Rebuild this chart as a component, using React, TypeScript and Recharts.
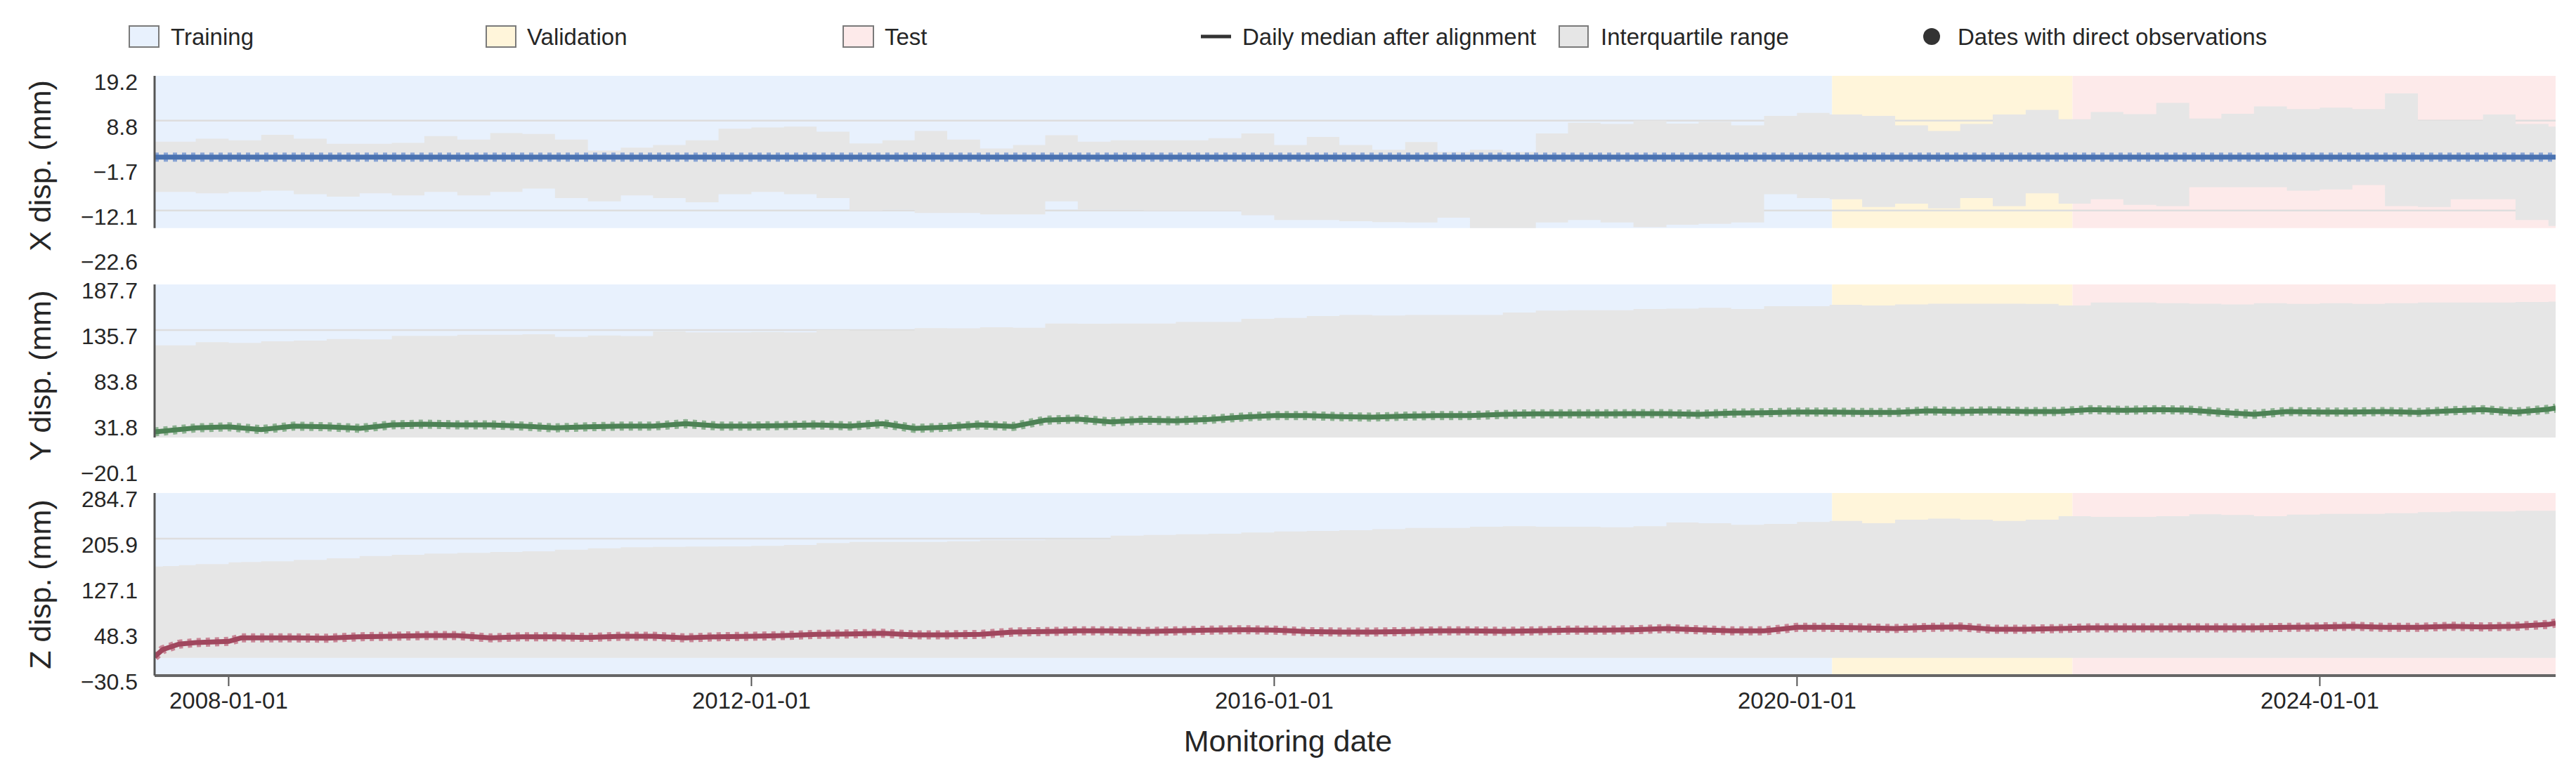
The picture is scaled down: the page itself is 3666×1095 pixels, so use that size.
import React from "react";
import { ComposedChart, XAxis, YAxis, Area, Line, ReferenceArea, ReferenceLine } from "recharts";

const W = 3666;
const H = 1095;
const FONT = "'Liberation Sans', Arial, Helvetica, sans-serif";

// ---------- time axis ----------
const domainDates = ["2007-06-08", "2025-10-21"];
const xTickDates = ["2008-01-01", "2012-01-01", "2016-01-01", "2020-01-01", "2024-01-01"];
const phaseNames = ["Training", "Validation", "Test"];
const phaseStarts = ["2007-06-08", "2020-04-08", "2022-02-09"];
const phaseEnds = ["2020-04-08", "2022-02-09", "2025-10-21"];
const phaseColors = ["#e8f1fd", "#fff5da", "#fdeaea"];

// ---------- sample dates (quarterly) ----------
const qDates = [
  "2007-06-08", "2007-10-01",
  "2008-01-01", "2008-04-01", "2008-07-01", "2008-10-01",
  "2009-01-01", "2009-04-01", "2009-07-01", "2009-10-01",
  "2010-01-01", "2010-04-01", "2010-07-01", "2010-10-01",
  "2011-01-01", "2011-04-01", "2011-07-01", "2011-10-01",
  "2012-01-01", "2012-04-01", "2012-07-01", "2012-10-01",
  "2013-01-01", "2013-04-01", "2013-07-01", "2013-10-01",
  "2014-01-01", "2014-04-01", "2014-07-01", "2014-10-01",
  "2015-01-01", "2015-04-01", "2015-07-01", "2015-10-01",
  "2016-01-01", "2016-04-01", "2016-07-01", "2016-10-01",
  "2017-01-01", "2017-04-01", "2017-07-01", "2017-10-01",
  "2018-01-01", "2018-04-01", "2018-07-01", "2018-10-01",
  "2019-01-01", "2019-04-01", "2019-07-01", "2019-10-01",
  "2020-01-01", "2020-04-01", "2020-07-01", "2020-10-01",
  "2021-01-01", "2021-04-01", "2021-07-01", "2021-10-01",
  "2022-01-01", "2022-04-01", "2022-07-01", "2022-10-01",
  "2023-01-01", "2023-04-01", "2023-07-01", "2023-10-01",
  "2024-01-01", "2024-04-01", "2024-07-01", "2024-10-01",
  "2025-01-01", "2025-04-01", "2025-07-01", "2025-10-01",
  "2025-10-21",
];

// ---------- X displacement (mm) ----------
const xTicks = [-22.6, -12.1, -1.7, 8.8, 19.2];
const xVisibleFloor = -16.2;
const xMedian = [
  0.3, 0.3,
  0.3, 0.3, 0.3, 0.3, 0.3, 0.3, 0.3, 0.3, 0.3, 0.3, 0.3, 0.3, 0.3, 0.3, 0.3, 0.3,
  0.3, 0.3, 0.3, 0.3, 0.3, 0.3, 0.3, 0.3, 0.3, 0.3, 0.3, 0.3, 0.3, 0.3, 0.3, 0.3,
  0.3, 0.3, 0.3, 0.3, 0.3, 0.3, 0.3, 0.3, 0.3, 0.3, 0.3, 0.3, 0.3, 0.3, 0.3, 0.3,
  0.3, 0.3, 0.3, 0.3, 0.3, 0.3, 0.3, 0.3, 0.3, 0.3, 0.3, 0.3, 0.3, 0.3, 0.3, 0.3,
  0.3, 0.3, 0.3, 0.3, 0.3, 0.3, 0.3, 0.3,
  0.3,
];
const xUpper = [
  3.9, 4.6,
  4.2, 5.5, 4.6, 3.4,
  3.4, 3.6, 5.2, 4.4,
  5.9, 5.7, 4.4, 1.8,
  2.5, 3.1, 4.2, 6.9,
  7.2, 7.4, 6.2, 3.5,
  4.2, 6.4, 4.4, 2.3,
  3.1, 5.4, 3.9, 4.2,
  4.2, 4.2, 4.7, 5.8,
  3.1, 5.0, 3.1, 2.0,
  3.8, 1.5, 2.0, 1.5,
  5.8, 8.3, 8.0, 8.8,
  8.1, 8.5, 7.7, 9.9,
  10.6, 10.2, 9.9, 7.7,
  6.4, 8.0, 10.2, 11.3,
  9.1, 10.8, 10.3, 12.9,
  9.3, 10.4, 12.1, 11.5,
  11.8, 11.5, 15.1, 8.8,
  8.8, 10.2, 8.0, 7.4,
  7.4,
];
const xLower = [
  -7.8, -8.1,
  -7.8, -7.5, -8.3, -8.9,
  -8.1, -8.6, -7.8, -8.6,
  -7.8, -7.0, -9.2, -10.0,
  -8.6, -9.2, -10.2, -8.3,
  -7.8, -8.3, -9.2, -12.1,
  -11.9, -12.7, -12.7, -13.0,
  -13.0, -10.0, -11.9, -11.9,
  -12.1, -12.1, -12.1, -13.2,
  -14.3, -14.3, -14.6, -14.8,
  -14.9, -13.8, -16.2, -16.2,
  -14.9, -14.3, -14.9, -16.0,
  -15.4, -15.2, -14.9, -8.3,
  -9.2, -9.5, -11.3, -10.5,
  -11.6, -9.2, -11.1, -8.1,
  -10.5, -9.5, -10.8, -11.1,
  -6.7, -6.7, -6.7, -7.5,
  -7.2, -6.2, -11.1, -11.3,
  -9.5, -9.5, -14.3, -15.7,
  -15.7,
];

// ---------- Y displacement (mm) ----------
const yTicks = [-20.1, 31.8, 83.8, 135.7, 187.7];
const yVisibleFloor = 13.5;
const yMedian = [
  19.9, 24.4,
  25.7, 22.5, 26.5, 25.7,
  23.9, 27.9, 28.7, 27.9,
  27.9, 26.5, 24.4, 25.7,
  26.5, 26.5, 29.2, 26.5,
  26.5, 27.1, 27.9, 26.5,
  29.2, 23.9, 25.2, 27.9,
  26.0, 33.2, 34.5, 31.3,
  33.2, 32.4, 34.0, 36.7,
  38.5, 38.5, 37.2, 36.7,
  37.8, 38.5, 38.5, 39.8,
  40.4, 40.4, 40.4, 40.6,
  40.6, 39.8, 41.2, 41.7,
  42.5, 42.5, 42.0, 42.0,
  43.9, 43.1, 43.9, 43.1,
  43.1, 45.2, 44.4, 45.2,
  44.7, 42.0, 39.8, 43.1,
  42.5, 42.5, 43.1, 42.0,
  43.9, 45.2, 42.5, 45.7,
  47.0,
];
const yUpper = [
  118.4, 121.9,
  121.1, 123.0, 123.7, 125.6,
  125.1, 129.1, 129.1, 130.4,
  130.4, 131.0, 128.0, 129.6,
  129.0, 134.4, 133.1, 133.1,
  133.5, 133.1, 135.7, 135.2,
  135.2, 137.9, 137.8, 138.9,
  138.4, 143.2, 142.9, 143.2,
  143.2, 145.0, 145.0, 148.5,
  149.6, 151.7, 153.0, 152.3,
  153.0, 153.0, 153.0, 155.7,
  157.9, 158.4, 158.4, 159.7,
  160.2, 161.1, 159.7, 162.9,
  162.9, 164.5, 163.7, 165.0,
  165.8, 165.8, 165.8, 165.5,
  163.7, 167.2, 167.2, 166.3,
  165.8, 165.0, 166.3, 165.5,
  166.3, 165.5, 166.3, 167.2,
  167.2, 167.2, 167.7, 168.2,
  168.2,
];
const yLower = [
  13.5, 13.5,
  13.5, 13.5, 13.5, 13.5, 13.5, 13.5, 13.5, 13.5, 13.5, 13.5, 13.5, 13.5, 13.5, 13.5, 13.5, 13.5,
  13.5, 13.5, 13.5, 13.5, 13.5, 13.5, 13.5, 13.5, 13.5, 13.5, 13.5, 13.5, 13.5, 13.5, 13.5, 13.5,
  13.5, 13.5, 13.5, 13.5, 13.5, 13.5, 13.5, 13.5, 13.5, 13.5, 13.5, 13.5, 13.5, 13.5, 13.5, 13.5,
  13.5, 13.5, 13.5, 13.5, 13.5, 13.5, 13.5, 13.5, 13.5, 13.5, 13.5, 13.5, 13.5, 13.5, 13.5, 13.5,
  13.5, 13.5, 13.5, 13.5, 13.5, 13.5, 13.5, 13.5,
  13.5,
];

// ---------- Z displacement (mm) ----------
const zDates = [
  "2007-06-08", "2007-07-01", "2007-08-15", "2007-10-01",
  "2008-01-01", "2008-02-05", "2008-04-01", "2008-07-01", "2008-10-01",
  "2009-01-01", "2009-04-01", "2009-07-01", "2009-10-01",
  "2010-01-01", "2010-04-01", "2010-07-01", "2010-10-01",
  "2011-01-01", "2011-04-01", "2011-07-01", "2011-10-01",
  "2012-01-01", "2012-04-01", "2012-07-01", "2012-10-01",
  "2013-01-01", "2013-04-01", "2013-07-01", "2013-10-01",
  "2014-01-01", "2014-04-01", "2014-07-01", "2014-10-01",
  "2015-01-01", "2015-04-01", "2015-07-01", "2015-10-01",
  "2016-01-01", "2016-04-01", "2016-07-01", "2016-10-01",
  "2017-01-01", "2017-04-01", "2017-07-01", "2017-10-01",
  "2018-01-01", "2018-04-01", "2018-07-01", "2018-10-01",
  "2019-01-01", "2019-04-01", "2019-07-01", "2019-10-01",
  "2020-01-01", "2020-04-01", "2020-07-01", "2020-10-01",
  "2021-01-01", "2021-04-01", "2021-07-01", "2021-10-01",
  "2022-01-01", "2022-04-01", "2022-07-01", "2022-10-01",
  "2023-01-01", "2023-04-01", "2023-07-01", "2023-10-01",
  "2024-01-01", "2024-04-01", "2024-07-01", "2024-10-01",
  "2025-01-01", "2025-04-01", "2025-07-01", "2025-10-01",
  "2025-10-21",
];
const zTicks = [-30.5, 48.3, 127.1, 205.9, 284.7];
const zVisibleFloor = -30.5;
const zMedian = [
  2.2, 14.4, 23.7, 26.5,
  28.5, 34.6, 34.6, 34.6, 34.0,
  36.6, 37.4, 38.6, 38.6,
  34.6, 36.6, 36.6, 35.4,
  37.4, 37.4, 34.6, 36.6,
  37.4, 38.6, 40.6, 41.4,
  42.6, 39.8, 39.8, 40.6,
  44.7, 45.5, 46.7, 46.7,
  45.5, 46.7, 47.9, 48.7,
  47.9, 45.5, 44.7, 44.7,
  45.5, 46.7, 46.7, 45.9,
  46.7, 47.9, 47.9, 48.7,
  50.7, 48.7, 46.7, 46.7,
  52.7, 52.7, 51.9, 50.7,
  52.7, 53.5, 49.5, 49.5,
  50.7, 51.9, 51.9, 51.9,
  51.9, 51.9, 51.9, 52.7,
  53.5, 54.7, 52.7, 52.7,
  54.7, 53.5, 54.7, 57.9,
  60.3,
];
const zUpper = [
  157.8, 158.5, 160.0, 161.9,
  165.0, 165.5, 166.7, 169.1, 172.0,
  175.9, 178.0, 180.1, 181.3,
  182.9, 184.1, 186.9, 189.3,
  191.0, 191.7, 192.2, 192.6,
  193.4, 195.0, 198.3, 200.2,
  200.2, 200.2, 201.4, 203.1,
  203.1, 204.3, 204.3, 211.1,
  212.3, 213.5, 214.4, 216.4,
  218.4, 219.2, 220.4, 222.4,
  224.4, 224.4, 226.5, 227.3,
  226.5, 226.5, 225.7, 227.3,
  233.8, 232.6, 229.8, 231.4,
  234.6, 236.6, 232.6, 238.6,
  240.6, 238.6, 236.6, 238.6,
  244.7, 243.5, 243.5, 244.7,
  247.9, 246.7, 244.7, 247.5,
  248.7, 248.7, 249.9, 251.6,
  252.8, 252.8, 254.0, 254.0,
  254.0,
];
const zLower = [
  0.2, 0.2, 0.2, 0.2,
  0.2, 0.2, 0.2, 0.2, 0.2,
  0.2, 0.2, 0.2, 0.2, 0.2, 0.2, 0.2, 0.2, 0.2, 0.2, 0.2, 0.2, 0.2, 0.2, 0.2, 0.2,
  0.2, 0.2, 0.2, 0.2, 0.2, 0.2, 0.2, 0.2, 0.2, 0.2, 0.2, 0.2, 0.2, 0.2, 0.2, 0.2,
  0.2, 0.2, 0.2, 0.2, 0.2, 0.2, 0.2, 0.2, 0.2, 0.2, 0.2, 0.2, 0.2, 0.2, 0.2, 0.2,
  0.2, 0.2, 0.2, 0.2, 0.2, 0.2, 0.2, 0.2, 0.2, 0.2, 0.2, 0.2, 0.2, 0.2, 0.2, 0.2,
  0.2, 0.2, 0.2, 0.2,
  0.2,
];

const panelTitles = ["X disp. (mm)", "Y disp. (mm)", "Z disp. (mm)"];
const xAxisTitle = "Monitoring date";

// ---------- helpers ----------
const ts = (d: string) => Date.parse(d + "T00:00:00Z");
const T0 = ts(domainDates[0]);
const T1 = ts(domainDates[1]);
const X_TICKS = xTickDates.map(ts);

function buildRows(dates: string[], med: number[], lo: number[], hi: number[]) {
  return dates.map((d, i) => ({ t: ts(d), med: med[i], lo: lo[i], hi: hi[i] }));
}

const fmtNum = (v: number) => v.toFixed(1).replace("-", "\u2212");

const fmtDate = (t: number) => {
  const d = new Date(t);
  const m = String(d.getUTCMonth() + 1).padStart(2, "0");
  const dd = String(d.getUTCDate()).padStart(2, "0");
  return `${d.getUTCFullYear()}-${m}-${dd}`;
};

const YTick = (props: any) => {
  const { y, payload } = props;
  return (
    <text x={196} y={y + 9} textAnchor="end" dominantBaseline="central" fontSize={32} fill="#262626" fontFamily={FONT}>
      {fmtNum(payload.value)}
    </text>
  );
};

const XTick = (props: any) => {
  const { x, y, payload } = props;
  return (
    <g>
      <line x1={x} x2={x} y1={y + 2} y2={y + 15} stroke="#555" strokeWidth={2} />
      <text x={x} y={y + 35} textAnchor="middle" dominantBaseline="central" fontSize={33} fill="#262626" fontFamily={FONT}>
        {fmtDate(payload.value)}
      </text>
    </g>
  );
};

type PanelProps = {
  rows: any[];
  ticks: number[];
  floor: number;
  color: string;
  markColor: string;
  top: number;
  bottom: number;
  showX?: boolean;
};

function Panel({ rows, ticks, floor, color, markColor, top, bottom, showX }: PanelProps) {
  const yMin = ticks[0];
  const yMax = ticks[ticks.length - 1];
  const xAxisH = 100;
  return (
    <div style={{ position: "absolute", left: 0, top: 0, width: W, height: H }}>
      <ComposedChart
        width={W}
        height={H}
        data={rows}
        margin={{ top, right: 29, bottom: showX ? bottom - xAxisH : bottom, left: 100 }}
      >
        <XAxis
          dataKey="t"
          type="number"
          scale="linear"
          domain={[T0, T1]}
          allowDataOverflow
          ticks={X_TICKS}
          interval={0}
          hide={!showX}
          height={xAxisH}
          axisLine={{ stroke: "#666", strokeWidth: 4 }}
          tickLine={false}
          tickSize={0}
          tickMargin={0}
          tick={<XTick />}
        />
        <YAxis
          type="number"
          domain={[yMin, yMax]}
          allowDataOverflow
          ticks={ticks}
          interval={0}
          width={120}
          axisLine={false}
          tickLine={false}
          tick={<YTick />}
        />
        {phaseNames.map((n, i) => (
          <ReferenceArea
            key={n}
            x1={ts(phaseStarts[i])}
            x2={ts(phaseEnds[i])}
            y1={floor}
            y2={yMax}
            fill={phaseColors[i]}
            fillOpacity={1}
            stroke="none"
            ifOverflow="hidden"
            zIndex={-60}
          />
        ))}
        {ticks
          .filter((v) => v > floor && v < yMax)
          .map((v) => (
            <ReferenceLine key={v} y={v} stroke="#dedede" strokeWidth={2.5} zIndex={-55} />
          ))}
        <Area
          dataKey={(d: any) => [d.lo, d.hi]}
          type="stepAfter"
          fill="#e6e6e6"
          fillOpacity={1}
          stroke="none"
          isAnimationActive={false}
          activeDot={false}
        />
        <Line
          dataKey="med"
          type="linear"
          stroke={markColor}
          strokeWidth={13}
          strokeDasharray="6 7"
          dot={false}
          activeDot={false}
          isAnimationActive={false}
        />
        <Line
          dataKey="med"
          type="linear"
          stroke={color}
          strokeWidth={7}
          dot={false}
          activeDot={false}
          isAnimationActive={false}
        />
        <ReferenceLine
          segment={[
            { x: T0, y: floor },
            { x: T0, y: yMax },
          ]}
          stroke="#555"
          strokeWidth={3}
          zIndex={900}
        />
      </ComposedChart>
    </div>
  );
}

function Overlay() {
  const legendY = 52;
  const boxStroke = "#7a7a7a";
  const txt = { fontSize: 33, fill: "#262626", fontFamily: FONT, dominantBaseline: "central" as const };
  return (
    <svg width={W} height={H} style={{ position: "absolute", left: 0, top: 0, pointerEvents: "none" }}>
      {/* legend */}
      <rect x={184} y={37} width={42} height={30} fill={phaseColors[0]} stroke={boxStroke} strokeWidth={2} />
      <text x={243} y={legendY} {...txt}>{phaseNames[0]}</text>
      <rect x={692} y={37} width={42} height={30} fill={phaseColors[1]} stroke={boxStroke} strokeWidth={2} />
      <text x={750} y={legendY} {...txt}>{phaseNames[1]}</text>
      <rect x={1200} y={37} width={43} height={30} fill={phaseColors[2]} stroke={boxStroke} strokeWidth={2} />
      <text x={1259} y={legendY} {...txt}>{phaseNames[2]}</text>
      <line x1={1709} x2={1752} y1={legendY} y2={legendY} stroke="#333" strokeWidth={5} />
      <text x={1768} y={legendY} {...txt}>Daily median after alignment</text>
      <rect x={2219} y={37} width={41} height={30} fill="#e6e6e6" stroke={boxStroke} strokeWidth={2} />
      <text x={2278} y={legendY} {...txt}>Interquartile range</text>
      <circle cx={2749} cy={legendY} r={12} fill="#333" />
      <text x={2786} y={legendY} {...txt}>Dates with direct observations</text>
      {/* y titles */}
      {[236, 535, 832].map((cy, i) => (
        <text
          key={i}
          x={57}
          y={cy}
          transform={`rotate(-90 57 ${cy})`}
          textAnchor="middle"
          dominantBaseline="central"
          fontSize={43}
          fill="#262626"
          fontFamily={FONT}
        >
          {panelTitles[i]}
        </text>
      ))}
      <text x={1833} y={1055} textAnchor="middle" dominantBaseline="central" fontSize={43} fill="#262626" fontFamily={FONT}>
        {xAxisTitle}
      </text>
    </svg>
  );
}

export default function App() {
  const xRows = buildRows(qDates, xMedian, xLower, xUpper);
  const yRows = buildRows(qDates, yMedian, yLower, yUpper);
  const zRows = buildRows(zDates, zMedian, zLower, zUpper);
  return (
    <div style={{ position: "absolute", left: 0, top: 0, width: W, height: H, background: "#fff", overflow: "hidden" }}>
      <Panel rows={xRows} ticks={xTicks} floor={xVisibleFloor} color="#4a72b0" markColor="#89a5d5" top={108} bottom={H - 364} />
      <Panel rows={yRows} ticks={yTicks} floor={yVisibleFloor} color="#4d8255" markColor="#8db291" top={405} bottom={H - 665} />
      <Panel rows={zRows} ticks={zTicks} floor={zVisibleFloor} color="#a0475e" markColor="#c98797" top={702} bottom={H - 962} showX />
      <Overlay />
    </div>
  );
}
